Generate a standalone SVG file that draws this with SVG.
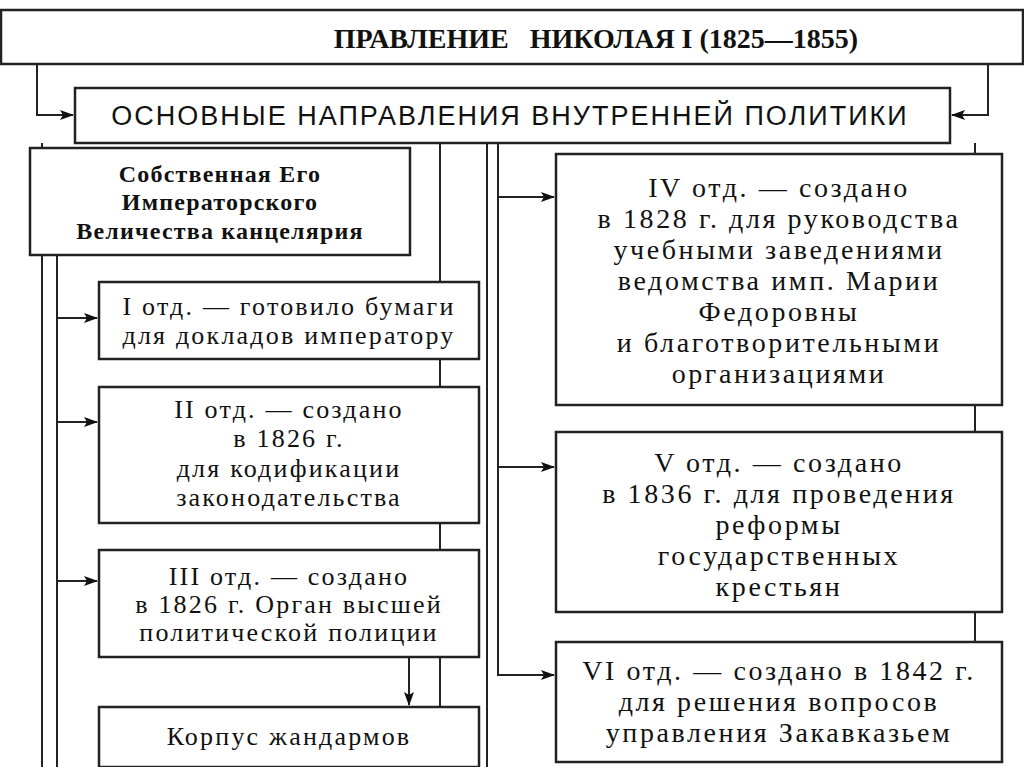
<svg xmlns="http://www.w3.org/2000/svg" width="1024" height="767" viewBox="0 0 1024 767">
<style>
.b{fill:#fff;stroke:#222;stroke-width:2.5}
.l{fill:none;stroke:#222;stroke-width:2}
.t{font-family:"Liberation Serif",serif;font-size:26px;fill:#111;text-anchor:middle;letter-spacing:2.2px}
.r{font-family:"Liberation Serif",serif;font-size:28px;fill:#111;text-anchor:middle;letter-spacing:2.6px}
.tb{font-family:"Liberation Serif",serif;font-size:24px;font-weight:bold;fill:#111;text-anchor:middle;letter-spacing:1.2px}
.h{font-family:"Liberation Sans Narrow","Liberation Sans",sans-serif;font-size:27px;fill:#111;text-anchor:middle;letter-spacing:2px}
</style>
<defs><marker id="a" markerWidth="14" markerHeight="10" refX="13" refY="5" orient="auto" markerUnits="userSpaceOnUse"><path d="M0,0 L14,5 L0,10 L3,5 Z" fill="#111"/></marker></defs>
<rect width="1024" height="767" fill="#fff"/>
<g id="connectors">
<path class="l" d="M37,64 V115 H73" marker-end="url(#a)"/>
<path class="l" d="M988,64 V115 H952" marker-end="url(#a)"/>
<path class="l" d="M42,143 V767"/>
<path class="l" d="M57,255 V767"/>
<path class="l" d="M57,318 H97" marker-end="url(#a)"/>
<path class="l" d="M57,422 H97" marker-end="url(#a)"/>
<path class="l" d="M57,581 H97" marker-end="url(#a)"/>
<path class="l" d="M440,143 V767"/>
<path class="l" d="M487,143 V767"/>
<path class="l" d="M498,143 V675 H554" marker-end="url(#a)"/>
<path class="l" d="M498,197 H554" marker-end="url(#a)"/>
<path class="l" d="M498,467 H554" marker-end="url(#a)"/>
<path class="l" d="M409,658 V705" marker-end="url(#a)"/>
<path class="l" d="M975,143 V154"/>
<path class="l" d="M975,405 V432"/>
<path class="l" d="M975,612 V642"/>
</g>
<g id="title"><rect class="b" x="1" y="10" width="1022" height="54"/><text x="596" y="48" xml:space="preserve" style="font-weight:bold;font-family:'Liberation Serif',serif;font-size:28px;text-anchor:middle;fill:#111">ПРАВЛЕНИЕ   НИКОЛАЯ I (1825—1855)</text></g>
<g id="main"><rect class="b" x="75" y="88" width="875" height="55"/><text class="h" x="510" y="125">ОСНОВНЫЕ НАПРАВЛЕНИЯ  ВНУТРЕННЕЙ ПОЛИТИКИ</text></g>
<g id="kanc"><rect class="b" x="30" y="148" width="380" height="107"/><text class="tb" x="220" y="182">Собственная Его</text><text class="tb" x="220" y="210">Императорского</text><text class="tb" x="220" y="239">Величества канцелярия</text></g>
<g id="o1"><rect class="b" x="99" y="282" width="380" height="77"/><text class="t" x="289" y="315">I отд. — готовило бумаги</text><text class="t" x="289" y="344">для докладов императору</text></g>
<g id="o2"><rect class="b" x="99" y="387" width="380" height="136"/><text class="t" x="289" y="418">II отд. — создано</text><text class="t" x="289" y="447">в 1826 г.</text><text class="t" x="289" y="477">для кодификации</text><text class="t" x="289" y="506">законодательства</text></g>
<g id="o3"><rect class="b" x="99" y="550" width="380" height="107"/><text class="t" x="289" y="585">III отд. — создано</text><text class="t" x="289" y="613">в 1826 г. Орган высшей</text><text class="t" x="289" y="641">политической полиции</text></g>
<g id="korp"><rect class="b" x="99" y="707" width="380" height="60"/><text class="t" x="289" y="745">Корпус жандармов</text></g>
<g id="o4"><rect class="b" x="556" y="154" width="446" height="251"/><text class="r" x="779" y="197">IV отд. — создано</text><text class="r" x="779" y="228">в 1828 г. для руководства</text><text class="r" x="779" y="259">учебными заведениями</text><text class="r" x="779" y="290">ведомства имп. Марии</text><text class="r" x="779" y="321">Федоровны</text><text class="r" x="779" y="352">и благотворительными</text><text class="r" x="779" y="383">организациями</text></g>
<g id="o5"><rect class="b" x="556" y="432" width="446" height="180"/><text class="r" x="779" y="472">V отд. — создано</text><text class="r" x="779" y="503">в 1836 г. для проведения</text><text class="r" x="779" y="534">реформы</text><text class="r" x="779" y="565">государственных</text><text class="r" x="779" y="596">крестьян</text></g>
<g id="o6"><rect class="b" x="556" y="642" width="446" height="120"/><text class="r" x="779" y="680">VI отд. — создано в 1842 г.</text><text class="r" x="779" y="711">для решения вопросов</text><text class="r" x="779" y="742">управления Закавказьем</text></g>
</svg>
